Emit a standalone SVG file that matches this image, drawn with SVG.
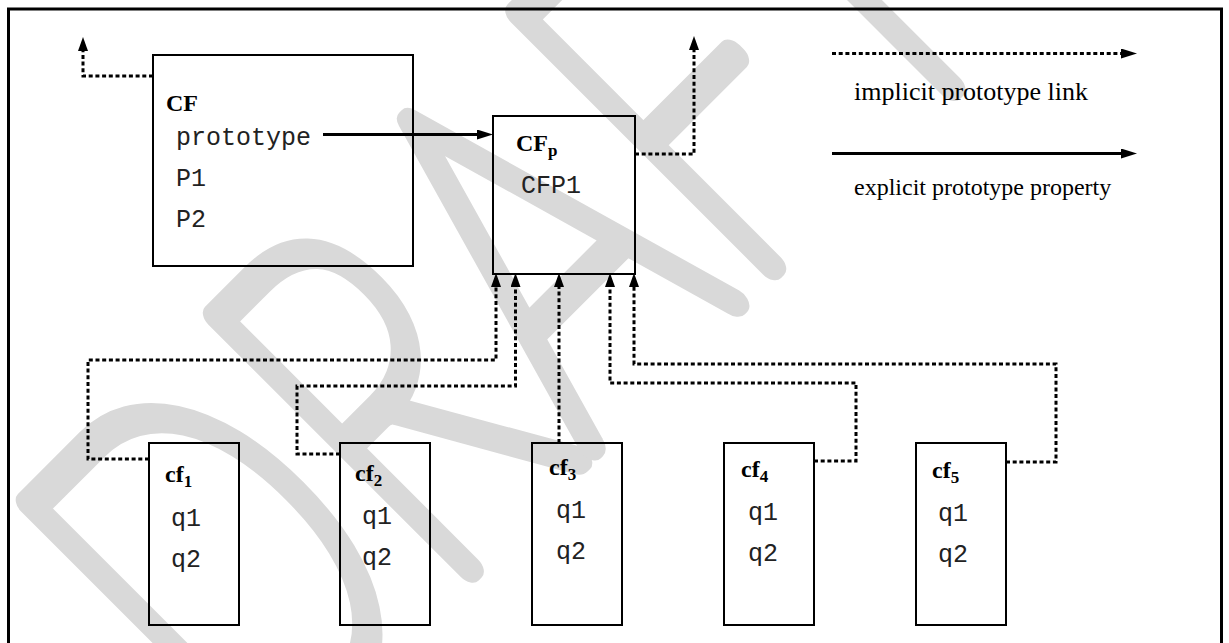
<svg xmlns="http://www.w3.org/2000/svg" width="1229" height="643" viewBox="0 0 1229 643">
<defs>
<style>
.box{fill:none;stroke:#000;stroke-width:2}
.dot{fill:none;stroke:#000;stroke-width:3;stroke-dasharray:4 2.7}
.solid{fill:none;stroke:#000;stroke-width:3}
.lbl{font-family:"Liberation Serif",serif;font-weight:bold;font-size:24px;fill:#000}
.sub{font-size:17px}
.mono{font-family:"Liberation Mono",monospace;font-size:25px;fill:#222}
.leg{font-family:"Liberation Serif",serif;fill:#000}
.wm{font-family:Lato,"DejaVu Sans",sans-serif;font-weight:100;font-size:510px;fill:#d9d9d9;stroke:#d9d9d9;stroke-width:30;stroke-linejoin:round}
</style>
<marker id="ah" markerUnits="userSpaceOnUse" markerWidth="16" markerHeight="10" refX="0" refY="5" orient="auto" viewBox="0 0 16 10">
<path d="M0,0 L16,5 L0,10 z" fill="#000"/>
</marker>
<marker id="ahs" markerUnits="userSpaceOnUse" markerWidth="14" markerHeight="10" refX="0" refY="5" orient="auto" viewBox="0 0 14 10">
<path d="M0,0 L14,5 L0,10 z" fill="#000"/>
</marker>
</defs>
<rect width="1229" height="643" fill="#fff"/>
<g id="watermark">
<text class="wm" transform="translate(252.4,785.5) rotate(-45)" textLength="1087" lengthAdjust="spacingAndGlyphs">DRAFT</text>
</g>
<rect id="frame" x="8.5" y="9" width="1213" height="700" fill="none" stroke="#000" stroke-width="3"/>
<g id="CF">
<rect class="box" x="153" y="55" width="260" height="211"/>
<text class="lbl" x="166" y="111">CF</text>
<text class="mono" x="176" y="145">prototype</text>
<text class="mono" x="176" y="186">P1</text>
<text class="mono" x="176" y="227">P2</text>
</g>
<g id="CFp">
<rect class="box" x="493" y="116" width="142" height="158"/>
<text class="lbl" x="516" y="151">CF<tspan class="sub" dy="5">p</tspan></text>
<text class="mono" x="521" y="193">CFP1</text>
</g>
<g id="cf1">
<rect class="box" x="149" y="443" width="90" height="182"/>
<text class="lbl" x="165" y="482">cf<tspan class="sub" dy="5">1</tspan></text>
<text class="mono" x="171" y="526">q1</text>
<text class="mono" x="171" y="567">q2</text>
</g>
<g id="cf2">
<rect class="box" x="340" y="443" width="90" height="182"/>
<text class="lbl" x="355" y="481">cf<tspan class="sub" dy="5">2</tspan></text>
<text class="mono" x="362" y="524">q1</text>
<text class="mono" x="362" y="565">q2</text>
</g>
<g id="cf3">
<rect class="box" x="532" y="443" width="90" height="182"/>
<text class="lbl" x="549" y="475">cf<tspan class="sub" dy="5">3</tspan></text>
<text class="mono" x="556" y="518">q1</text>
<text class="mono" x="556" y="559">q2</text>
</g>
<g id="cf4">
<rect class="box" x="724" y="443" width="90" height="182"/>
<text class="lbl" x="741" y="477">cf<tspan class="sub" dy="5">4</tspan></text>
<text class="mono" x="748" y="520">q1</text>
<text class="mono" x="748" y="561">q2</text>
</g>
<g id="cf5">
<rect class="box" x="916" y="443" width="90" height="182"/>
<text class="lbl" x="932" y="478">cf<tspan class="sub" dy="5">5</tspan></text>
<text class="mono" x="938" y="521">q1</text>
<text class="mono" x="938" y="562">q2</text>
</g>
<g id="connectors">
<path class="dot" d="M153,76 H83 V51" marker-end="url(#ahs)"/>
<path class="dot" d="M635,154 H694 V50" marker-end="url(#ahs)"/>
<path class="dot" d="M149,459 H88 V360 H496 V287" marker-end="url(#ahs)"/>
<path class="dot" d="M340,454 H297 V386 H515.5 V287" marker-end="url(#ahs)"/>
<path class="dot" d="M559,443 V287" marker-end="url(#ahs)"/>
<path class="dot" d="M814,461 H856 V383 H610 V287" marker-end="url(#ahs)"/>
<path class="dot" d="M1006,462 H1056 V364 H634 V287" marker-end="url(#ahs)"/>
<path class="solid" d="M323,134.5 H477" marker-end="url(#ah)"/>
</g>
<g id="legend">
<path class="dot" d="M832,53.5 H1121" marker-end="url(#ah)"/>
<text class="leg" x="854" y="100" font-size="26">implicit prototype link</text>
<path class="solid" d="M832,153.5 H1121" marker-end="url(#ah)"/>
<text class="leg" x="854" y="195" font-size="24">explicit prototype property</text>
</g>
</svg>
